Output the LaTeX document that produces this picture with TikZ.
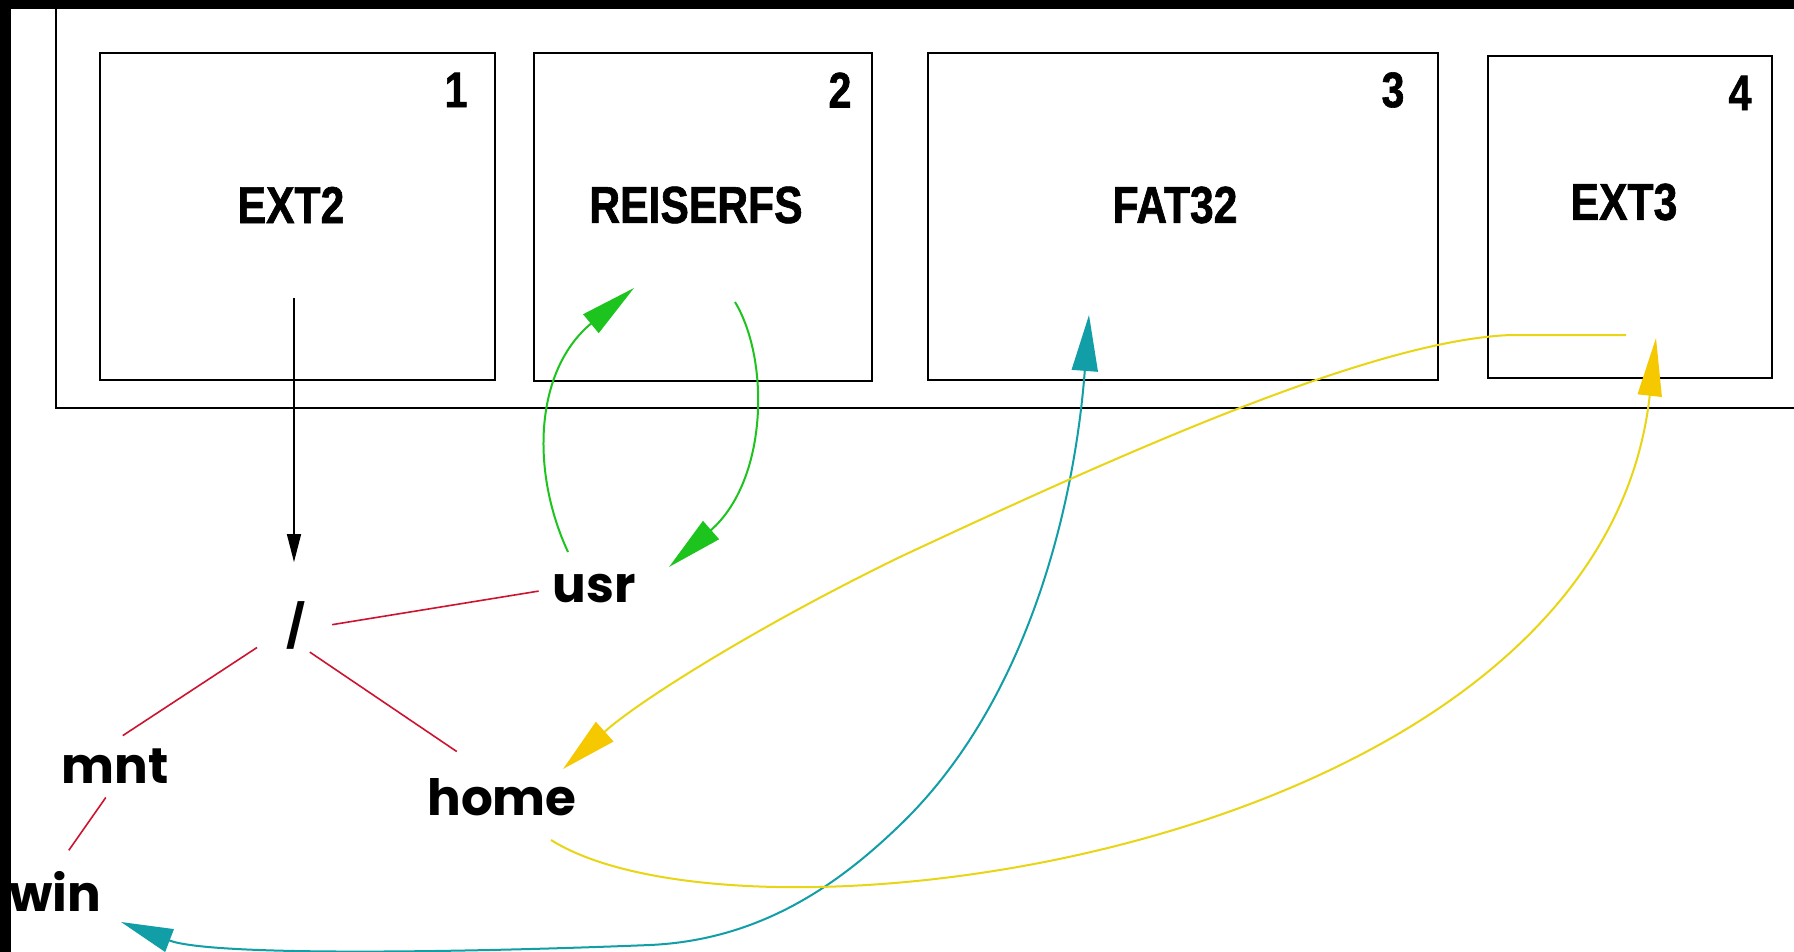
\documentclass[tikz,border=0pt]{standalone}
\usepackage{fontspec}
\usetikzlibrary{arrows.meta}

\newfontfamily\treefont{Poppins}
\newfontfamily\partfont[FakeStretch=0.82,FakeBold=1.2]{Liberation Sans}

\definecolor{fsgreen}{RGB}{30,196,30}
\definecolor{fsteal}{RGB}{18,158,166}
\definecolor{fsyellow}{RGB}{232,214,20}
\definecolor{fsgold}{RGB}{245,200,0}
\definecolor{fsred}{RGB}{204,20,48}

\tikzset{every picture/.style={line width=2pt}}
\tikzset{
	partbox/.style={draw, rectangle, inner sep=0pt},
	partname/.style={font=\partfont\bfseries\fontsize{52}{60}\selectfont},
	partnum/.style={font=\partfont\bfseries\fontsize{50}{60}\selectfont},
	dirname/.style={font=\treefont\bfseries\fontsize{50}{60}\selectfont, inner sep=0pt},
	treeline/.style={draw=fsred, line width=1.6pt},
	bigtip/.style={-{Triangle[length=56pt,width=24pt]}},
}

\begin{document}
\begin{tikzpicture}[x=1pt,y=1pt,yscale=-1,xscale=1]
	\useasboundingbox (0,0) rectangle (1794,952);
	\fill[white] (0,0) rectangle (1794,952);

	%Shape: Black border
	\fill[black] (0,0) rectangle (1794,9);
	\fill[black] (0,0) rectangle (11,952);
	%Shape: Disk panel
	\draw (1794,408) -- (56,408) -- (56,9);

	%Shape: Partitions
	\node[partbox, minimum width=395, minimum height=327] (part1) at (297.5,216.5) {};
	\node[partbox, minimum width=338, minimum height=328] (part2) at (703,217) {};
	\node[partbox, minimum width=510, minimum height=327] (part3) at (1183,216.5) {};
	\node[partbox, minimum width=284, minimum height=322] (part4) at (1630,217) {};

	% Text Node
	\node[partname] (lbl1) at (291,205) {EXT2};
	\node[partname] (lbl2) at (696,205) {REISERFS};
	\node[partname] (lbl3) at (1175,205) {FAT32};
	\node[partname] (lbl4) at (1624,202) {EXT3};
	% Text Node
	\node[partnum] (idx1) at (456,90) {1};
	\node[partnum] (idx2) at (840,90) {2};
	\node[partnum] (idx3) at (1393,90) {3};
	\node[partnum] (idx4) at (1740,93) {4};

	% Text Node
	\node[dirname, font=\treefont\bfseries\fontsize{42}{50}\selectfont] (root) at (296,625) {/};
	\node[dirname] (usr) at (594,589) {usr};
	\node[dirname] (mnt) at (115,766) {mnt};
	\node[dirname] (home) at (502,797) {home};
	\node[dirname] (win) at (55,891) {win};

	%Straight Lines
	\draw[treeline, shorten <=26pt, shorten >=13pt] (root.340) -- (usr.west);
	\draw[treeline, shorten <=34pt, shorten >=22pt] (root.200) -- (mnt.120);
	\draw[treeline, shorten <=4pt, shorten >=46pt] (root.south east) -- (home.110);
	\draw[treeline, shorten <=16pt, shorten >=24pt] (mnt.south) -- (win.north);

	% Ends of the mount arrows
	\coordinate (ext2out) at (294,298);
	\coordinate (usrup) at (568,552);
	\coordinate (reiserin) at (634,288);
	\coordinate (reiserout) at (735,302);
	\coordinate (usrin) at (669,567);
	\coordinate (fatin) at (1089,315);
	\coordinate (winin) at (121,922);
	\coordinate (ext3out) at (1626,335);
	\coordinate (ext3bend) at (1511,335);
	\coordinate (homein) at (563,769);
	\coordinate (homeout) at (551,840);
	\coordinate (ext3in) at (1656,338);

	%Curve Lines
	\draw[-{Triangle[length=28pt,width=14pt]}, line width=1.4pt, shorten >=38pt] (ext2out) -- (ext2out |- root.north);
	\draw[fsgreen, bigtip] (usrup) .. controls (530,470) and (535,370) .. (reiserin);
	\draw[fsgreen, bigtip] (reiserout) .. controls (770,360) and (768,480) .. (usrin);
	\draw[fsteal, {Triangle[length=56pt,width=26pt]}-{Triangle[length=52pt,width=24pt]}] (fatin) .. controls (1075,500) and (1030,700) .. (900,825) .. controls (838,885) and (760,940) .. (650,945) .. controls (450,953) and (210,956) .. (winin);
	\draw[fsyellow, -{Triangle[length=56pt,width=26pt,color=fsgold]}] (ext3out) -- (ext3bend) .. controls (1380,340) and (1150,440) .. (900,557) .. controls (760,625) and (640,700) .. (homein);
	\draw[fsyellow, -{Triangle[length=58pt,width=24pt,color=fsgold]}] (homeout) .. controls (750,965) and (1600,850) .. (ext3in);

\end{tikzpicture}
\end{document}
